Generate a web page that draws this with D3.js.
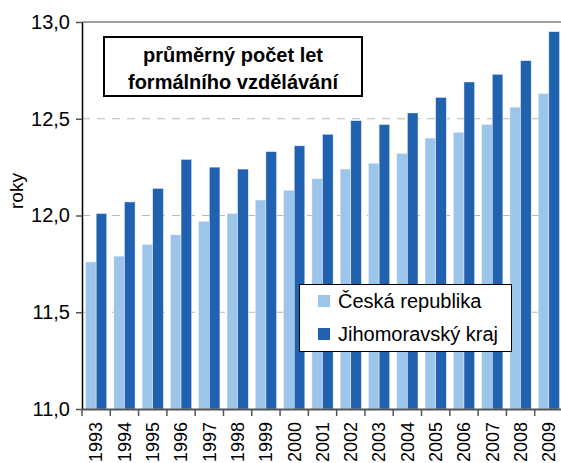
<!DOCTYPE html>
<html>
<head>
<meta charset="utf-8">
<script src="https://cdn.jsdelivr.net/npm/d3@7"></script>
<style>
  body { margin: 0; background: #fff; }
  svg { display: block; font-family: "Liberation Sans", Arial, sans-serif; }
</style>
</head>
<body>
<div id="chart"></div>
<script>
// data
const years = ["1993","1994","1995","1996","1997","1998","1999","2000","2001",
  "2002","2003","2004","2005","2006","2007","2008","2009"];
const czValues = [11.76, 11.79, 11.85, 11.90, 11.97, 12.01, 12.08, 12.13, 12.19,
  12.24, 12.27, 12.32, 12.40, 12.43, 12.47, 12.56, 12.63];
const jmkValues = [12.01, 12.07, 12.14, 12.29, 12.25, 12.24, 12.33, 12.36, 12.42,
  12.49, 12.47, 12.53, 12.61, 12.69, 12.73, 12.80, 12.95];
const seriesNames = ["Česká republika", "Jihomoravský kraj"];
const yTicks = [11.0, 11.5, 12.0, 12.5, 13.0];
const titleLines = ["průměrný počet let", "formálního vzdělávání"];

const colors = ["#9dc5ea", "#2062b0"];

const width = 561, height = 463;
const margin = { top: 22, right: -2, bottom: 54, left: 82 };
const innerW = width - margin.left - margin.right;
const innerH = height - margin.top - margin.bottom;

const svg = d3.select("#chart").append("svg")
  .attr("width", width)
  .attr("height", height);

const g = svg.append("g")
  .attr("transform", "translate(" + margin.left + "," + margin.top + ")");

const x = d3.scaleBand().domain(years).range([0, innerW]).paddingInner(0.25).paddingOuter(0.125);
const xs = d3.scaleBand().domain([0, 1]).range([0, x.bandwidth()]);
const y = d3.scaleLinear().domain([11, 13]).range([innerH, 0]);

// gridlines (dashed), top line solid
g.append("g")
  .selectAll("line")
  .data(yTicks.filter(d => d > 11 && d < 13))
  .enter().append("line")
  .attr("x1", 0).attr("x2", innerW)
  .attr("y1", d => y(d)).attr("y2", d => y(d))
  .attr("stroke", "#b8b8b8")
  .attr("stroke-width", 1)
  .attr("stroke-dasharray", "8,7");

g.append("line")
  .attr("x1", 0).attr("x2", innerW)
  .attr("y1", y(13)).attr("y2", y(13))
  .attr("stroke", "#a0a0a0")
  .attr("stroke-width", 2);

// bars
const rows = years.map((yr, i) => ({ year: yr, vals: [czValues[i], jmkValues[i]] }));
const groups = g.append("g").selectAll("g")
  .data(rows)
  .enter().append("g")
  .attr("transform", d => "translate(" + x(d.year) + ",0)");

groups.selectAll("rect")
  .data(d => d.vals.map((v, k) => ({ k, v })))
  .enter().append("rect")
  .attr("x", d => xs(d.k))
  .attr("width", xs.bandwidth())
  .attr("y", d => y(d.v))
  .attr("height", d => y(11) - y(d.v))
  .attr("fill", d => colors[d.k])
  .attr("stroke", "#e8f0f8")
  .attr("stroke-width", 0.5);

// y axis
const yAxis = g.append("g")
  .call(d3.axisLeft(y).tickValues(yTicks).tickSize(6).tickSizeOuter(0)
    .tickFormat(d => d3.format(".1f")(d).replace(".", ",")));
yAxis.select(".domain").attr("stroke", "#000").attr("stroke-width", 1.5);
yAxis.selectAll(".tick line").attr("stroke", "#555").attr("stroke-width", 1.5);
yAxis.selectAll(".tick text")
  .attr("x", -12)
  .attr("fill", "#000")
  .style("font-size", "20px");

// x axis
const xAxis = g.append("g")
  .attr("transform", "translate(0," + innerH + ")")
  .call(d3.axisBottom(x).tickSize(0).tickSizeOuter(0));
xAxis.select(".domain").attr("stroke", "#555").attr("stroke-width", 2);
xAxis.selectAll(".tick text")
  .attr("transform", "rotate(-90)")
  .attr("x", -13)
  .attr("y", 0)
  .attr("dy", "0.35em")
  .attr("text-anchor", "end")
  .attr("fill", "#000")
  .style("font-size", "18px");

// category boundary ticks
const step = x.step();
g.append("g").selectAll("line")
  .data(d3.range(years.length + 1))
  .enter().append("line")
  .attr("x1", i => i * step).attr("x2", i => i * step)
  .attr("y1", innerH).attr("y2", innerH + 7)
  .attr("stroke", "#555")
  .attr("stroke-width", 1.5);

// y label
svg.append("text")
  .attr("transform", "translate(23,191) rotate(-90)")
  .attr("text-anchor", "middle")
  .style("font-size", "19px")
  .text("roky");

// title box
const tb = svg.append("g");
tb.append("rect")
  .attr("x", 104).attr("y", 37)
  .attr("width", 258).attr("height", 59)
  .attr("fill", "#fff")
  .attr("stroke", "#000")
  .attr("stroke-width", 2);
tb.selectAll("text")
  .data(titleLines)
  .enter().append("text")
  .attr("x", 233)
  .attr("y", (d, i) => 62 + i * 27)
  .attr("text-anchor", "middle")
  .style("font-size", "20px")
  .style("font-weight", "bold")
  .text(d => d);

// legend
const lg = svg.append("g");
lg.append("rect")
  .attr("x", 299.5).attr("y", 284.5)
  .attr("width", 212).attr("height", 67)
  .attr("fill", "#fff")
  .attr("stroke", "#000")
  .attr("stroke-width", 1);
const items = lg.selectAll("g.item")
  .data(seriesNames)
  .enter().append("g")
  .attr("class", "item")
  .attr("transform", (d, i) => "translate(318," + (295 + i * 33) + ")");
items.append("rect")
  .attr("width", 12).attr("height", 12)
  .attr("fill", (d, i) => colors[i]);
items.append("text")
  .attr("x", 20).attr("y", 6)
  .attr("dy", "0.35em")
  .style("font-size", "20px")
  .text(d => d);
</script>
</body>
</html>
